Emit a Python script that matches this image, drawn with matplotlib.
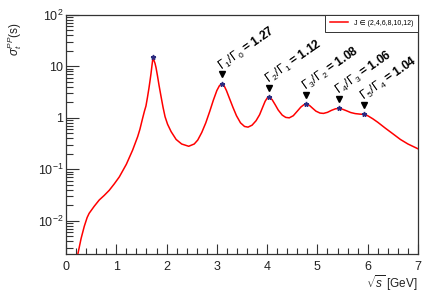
import matplotlib
matplotlib.use("Agg")
import matplotlib.pyplot as plt
from matplotlib.ticker import FixedLocator, MultipleLocator, LogLocator, NullFormatter

plt.rcParams['font.family'] = ['Liberation Sans', 'DejaVu Sans']
plt.rcParams['mathtext.fontset'] = 'custom'
plt.rcParams['mathtext.rm'] = 'Liberation Sans'
plt.rcParams['mathtext.it'] = 'Liberation Sans:italic'
plt.rcParams['mathtext.bf'] = 'Liberation Sans:bold'

# curve
sqrt_s = [0.225, 0.3, 0.364, 0.42, 0.46, 0.56, 0.66, 0.76, 0.86, 0.96, 1.06, 1.2, 1.325,
          1.425, 1.47, 1.52, 1.56, 1.59, 1.62, 1.65, 1.67, 1.69, 1.71, 1.73, 1.75, 1.77,
          1.79, 1.82, 1.85, 1.89, 1.93, 1.97, 2.02, 2.09, 2.19, 2.3, 2.44, 2.55, 2.62,
          2.7, 2.78, 2.86, 2.93, 3.0, 3.05, 3.095, 3.14, 3.19, 3.25, 3.32, 3.39, 3.47,
          3.55, 3.62, 3.7, 3.78, 3.85, 3.91, 3.96, 4.01, 4.05, 4.1, 4.16, 4.22, 4.3, 4.37,
          4.44, 4.52, 4.6, 4.67, 4.73, 4.78, 4.84, 4.9, 4.97, 5.05, 5.12, 5.2, 5.28, 5.36,
          5.43, 5.5, 5.58, 5.66, 5.75, 5.85, 5.92, 6.0, 6.1, 6.2, 6.35, 6.5, 6.65, 6.8, 7.0]
sigma = [0.0020, 0.0045, 0.0078, 0.0115, 0.0139, 0.019, 0.0252, 0.031, 0.039, 0.052, 0.071,
         0.125, 0.236, 0.43, 0.6, 0.95, 1.35, 1.7, 2.5, 3.8, 5.2, 7.2, 10.5, 15.0, 13.0,
         11.5, 9.5, 6.5, 4.3, 2.6, 1.6, 1.05, 0.75, 0.54, 0.38, 0.31, 0.28, 0.31, 0.37,
         0.52, 0.8, 1.35, 2.2, 3.4, 4.2, 4.6, 4.3, 3.4, 2.4, 1.6, 1.1, 0.8, 0.68, 0.66,
         0.72, 0.88, 1.15, 1.6, 2.1, 2.5, 2.5, 2.25, 1.8, 1.42, 1.13, 1.02, 1.0, 1.1, 1.35,
         1.62, 1.8, 1.85, 1.75, 1.55, 1.35, 1.24, 1.22, 1.28, 1.4, 1.5, 1.52, 1.47, 1.37,
         1.27, 1.21, 1.18, 1.17, 1.1, 0.96, 0.82, 0.63, 0.49, 0.38, 0.31, 0.25]

peak_x = [1.73, 3.095, 4.03, 4.78, 5.43, 5.92]
peak_y = [15.5, 4.6, 2.55, 1.85, 1.52, 1.17]
ratio_labels = [r"$\Gamma_1/\Gamma_0$ = 1.27", r"$\Gamma_2/\Gamma_1$ = 1.12",
                r"$\Gamma_3/\Gamma_2$ = 1.08", r"$\Gamma_4/\Gamma_3$ = 1.06",
                r"$\Gamma_5/\Gamma_4$ = 1.04"]
legend_label = "J ∈ (2,4,6,8,10,12)"
ytick_vals = [0.01, 0.1, 1, 10, 100]
ytick_labels = [r"$10^{-2}$", r"$10^{-1}$", "1", "10", r"$10^{2}$"]
xtick_vals = [0, 1, 2, 3, 4, 5, 6, 7]

fig = plt.figure(figsize=(4.42, 3.0), dpi=100)
ax = fig.add_axes([66/442, 1-254/300, (418-66)/442, (254-15)/300])

ax.plot(sqrt_s, sigma, color='#ff0000', lw=1.1, label=legend_label, zorder=3)
ax.plot(peak_x, peak_y, linestyle='none', marker='*', color='#2b2b80', ms=3.5, zorder=4)
tri_y = [v * 1.52 for v in peak_y[1:]]
ax.plot(peak_x[1:], tri_y, linestyle='none', marker='v', color='black', ms=4, zorder=4)
for x, y, lab in zip(peak_x[1:], tri_y, ratio_labels):
    ax.annotate(lab, xy=(x, y), xytext=(1.5, 0.5), textcoords='offset points',
                rotation=35, rotation_mode='anchor', ha='left', va='bottom',
                fontsize=8.7, fontweight='bold')

ax.set_yscale('log')
ax.set_xlim(0, 7)
ax.set_ylim(2.25e-3, 100)
ax.yaxis.set_major_locator(FixedLocator(ytick_vals))
ax.set_yticklabels(ytick_labels)
ax.yaxis.set_minor_locator(LogLocator(base=10, subs=range(2, 10), numticks=20))
ax.yaxis.set_minor_formatter(NullFormatter())
ax.set_xticks(xtick_vals)
ax.xaxis.set_minor_locator(MultipleLocator(0.2))

ax.tick_params(which='both', direction='in', top=False, right=False, colors='#333333',
               labelsize=9, labelcolor='#222222')
ax.tick_params(axis='y', which='major', length=9, width=0.8)
ax.tick_params(axis='y', which='minor', length=5, width=0.8)
ax.tick_params(axis='x', which='major', length=7, width=0.8, pad=5)
ax.tick_params(axis='x', which='minor', length=4, width=0.8)
ax.tick_params(axis='y', pad=2)
for sp in ax.spines.values():
    sp.set_linewidth(0.9)
    sp.set_color('#333333')

ax.set_xlabel(r"$\sqrt{s}$ [GeV]", fontsize=8.5, ha='right', color='#222222')
ax.xaxis.set_label_coords(1.0, -0.08)
ax.set_ylabel(r"$\sigma_{t}^{PP}$(s)", fontsize=8.5, ha='right', color='#222222')
ax.yaxis.set_label_coords(-0.118, 0.97)

leg = ax.legend(loc='upper right', fontsize=5, borderaxespad=0, fancybox=False,
                framealpha=1, edgecolor='#333333', handlelength=2.6, borderpad=0.7)
leg.get_frame().set_linewidth(0.7)

fig.savefig("out.png", dpi=100)
